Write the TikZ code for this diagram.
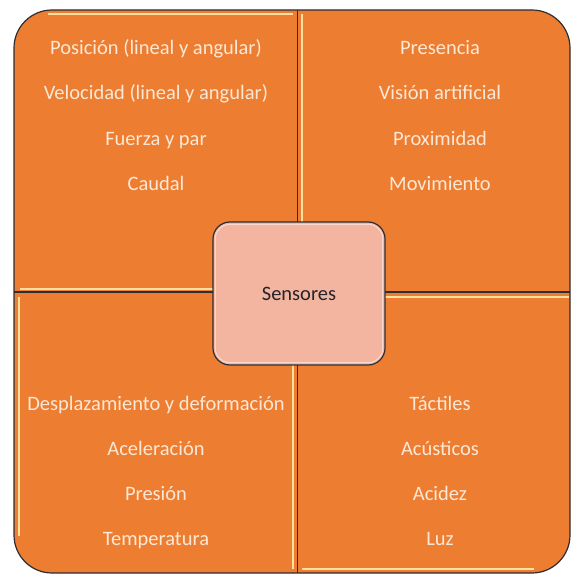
\documentclass[tikz,border=0pt]{standalone}
\usepackage{fontspec}
\setmainfont{Carlito}
\usepackage{tikz}
\usetikzlibrary{positioning}
\definecolor{quadorange}{RGB}{237,125,49}
\definecolor{quadtext}{RGB}{252,232,214}
\definecolor{hilite}{RGB}{255,224,160}
\definecolor{hubpink}{RGB}{243,180,160}
\definecolor{edge}{RGB}{45,45,52}

\begin{document}
\begin{tikzpicture}[x=1pt, y=-1pt,
    item/.style = {text=quadtext, font=\fontsize{20.5}{24}\selectfont,
                   inner sep=0pt, anchor=base},
    hub/.style  = {draw=edge, line width=1.2pt, fill=hubpink, rounded corners=17pt,
                   minimum width=172pt, minimum height=143pt,
                   font=\fontsize{20.5}{24}\selectfont, text=edge!80!black},
    glow/.style = {hilite, line width=2pt}]
  \useasboundingbox (0,0) rectangle (571,575);

  % board and dividers
  \filldraw[fill=quadorange, draw=edge, line width=1.2pt, rounded corners=38pt]
    (14,10) rectangle (570,573);
  \draw[edge, line width=1.2pt] (297.5,10) -- (297.5,573) (14,292) -- (570,292);

  % light strips along the edges
  \draw[glow] (48,14.5) -- (293,14.5)  (20,288.5) -- (293,288.5);
  \draw[glow] (302,14) -- (302,288);
  \draw[glow] (18.5,297) -- (18.5,536)  (293,297) -- (293,569);
  \draw[glow] (302,296.5) -- (569,296.5)  (302,568.5) -- (534,568.5);

  % lists
  \foreach \t [count=\i] in {Posición (lineal y angular), Velocidad (lineal y angular),
                             Fuerza y par, Caudal}
    \node[item] (tl\i) at (156, 10+45*\i) {\t};
  \foreach \t [count=\i] in {Presencia, Visión artificial, Proximidad, Movimiento}
    \node[item] (tr\i) at (440, 10+45*\i) {\t};
  \foreach \t [count=\i] in {Desplazamiento y deformación, Aceleración, Presión, Temperatura}
    \node[item] (bl\i) at (156, 365+45*\i) {\t};
  \foreach \t [count=\i] in {Táctiles, Acústicos, Acidez, Luz}
    \node[item] (br\i) at (440, 365+45*\i) {\t};

  \node[hub] (sensores) at (299,293.5) {Sensores};
  \draw[white, opacity=0.5, line width=1pt, rounded corners=14pt]
    ([shift={(3,3)}]sensores.north west) rectangle ([shift={(-3,-3)}]sensores.south east);
\end{tikzpicture}
\end{document}
